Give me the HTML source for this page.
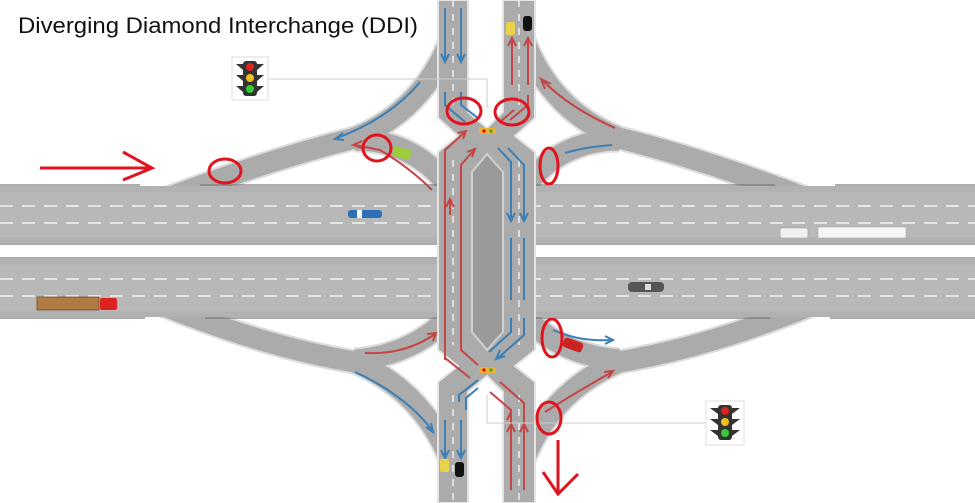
<!DOCTYPE html>
<html><head><meta charset="utf-8"><style>
html,body{margin:0;padding:0;background:#fff;}
svg{display:block;}
</style></head><body>
<svg width="975" height="503" viewBox="0 0 975 503" xmlns="http://www.w3.org/2000/svg">
<rect width="975" height="503" fill="#fff"/>
<!-- ramps -->
<g fill="none" stroke-linecap="butt">
<g stroke="#dcdcdc" stroke-width="25">
<path d="M150,205 Q260,162 355,138"/><path d="M355,138 Q425,110 452,35"/><path d="M355,140 Q412,140 448,185"/>
<path d="M150,300 Q260,346 355,362"/><path d="M355,362 Q425,392 452,465"/><path d="M355,360 Q412,355 448,318"/>
<path d="M824,205 Q714,162 619,138"/><path d="M619,138 Q549,110 522,35"/><path d="M619,140 Q562,140 526,185"/>
<path d="M824,300 Q714,346 619,362"/><path d="M619,362 Q549,392 522,465"/><path d="M619,360 Q562,355 526,318"/>
</g>
<g stroke="#ababab" stroke-width="21">
<path d="M150,205 Q260,162 355,138"/><path d="M355,138 Q425,110 452,35"/><path d="M355,140 Q412,140 448,185"/>
<path d="M150,300 Q260,346 355,362"/><path d="M355,362 Q425,392 452,465"/><path d="M355,360 Q412,355 448,318"/>
<path d="M824,205 Q714,162 619,138"/><path d="M619,138 Q549,110 522,35"/><path d="M619,140 Q562,140 526,185"/>
<path d="M824,300 Q714,346 619,362"/><path d="M619,362 Q549,392 522,465"/><path d="M619,360 Q562,355 526,318"/>
</g>
</g>
<!-- highways -->
<rect x="0" y="186" width="975" height="57" fill="#b2b2b2"/>
<rect x="0" y="192" width="975" height="45" fill="#b8b8b8"/>
<rect x="0" y="259" width="975" height="58" fill="#b2b2b2"/>
<rect x="0" y="265" width="975" height="46" fill="#b8b8b8"/>
<g stroke="#f2f2f2" stroke-width="1.5" stroke-dasharray="13,9">
<line x1="0" y1="206" x2="975" y2="206"/><line x1="0" y1="223" x2="975" y2="223"/>
<line x1="0" y1="279" x2="975" y2="279"/><line x1="0" y1="296" x2="975" y2="296"/>
</g>
<g stroke="#7a7a7a" stroke-width="1.2">
<line x1="0" y1="185" x2="140" y2="185"/><line x1="200" y1="185" x2="775" y2="185"/><line x1="835" y1="185" x2="975" y2="185"/>
<line x1="0" y1="244" x2="975" y2="244"/><line x1="0" y1="258" x2="975" y2="258"/>
<line x1="0" y1="318" x2="145" y2="318"/><line x1="205" y1="318" x2="770" y2="318"/><line x1="830" y1="318" x2="975" y2="318"/>
</g>
<!-- arterial -->
<polygon points="438,0 468,0 468,112 487,128 503,112 503,0 535,0 535,118 515,136 535,152 535,350 515,366 535,382 535,503 503,503 503,392 487,376 468,392 468,503 438,503 438,382 458,366 438,350 438,152 458,136 438,118" fill="#ababab" stroke="#e4e4e4" stroke-width="2"/>
<polygon points="472,172 487,154 503,172 503,332 487,350 472,332" fill="#9a9a9a" stroke="#d0d0d0" stroke-width="2"/>
<g stroke="#f0f0f0" stroke-width="1.5" stroke-dasharray="7,7">
<line x1="453" y1="0" x2="453" y2="110"/><line x1="519" y1="0" x2="519" y2="110"/>
<line x1="453" y1="160" x2="453" y2="345"/><line x1="519" y1="160" x2="519" y2="345"/>
<line x1="453" y1="395" x2="453" y2="503"/><line x1="519" y1="395" x2="519" y2="503"/>
</g>
<!-- arrows -->
<g fill="none" stroke-width="2">
<g stroke="#3c7fb4">
<path d="M445,8 V60 M441,54 L445,62 L449,54"/><path d="M461,8 V60 M457,54 L461,62 L465,54"/>
<path d="M445,92 V105 L465,122"/><path d="M461,92 V105 L478,118"/>
<path d="M508,148 L524,165 V220 M520,213 L524,221 L528,213"/><path d="M498,148 L511,162 V220 M507,213 L511,221 L515,213"/>
<path d="M511,238 V300 M524,238 V300"/><path d="M524,318 V335 L498,358 M500,350 L496,359 L505,356"/><path d="M511,318 V332 L489,352"/>
<path d="M478,380 L459,395 V402"/><path d="M478,388 L466,398 V410"/><path d="M445,420 V457 M441,450 L445,458 L449,450"/><path d="M461,420 V457 M457,450 L461,458 L465,450"/>
<path d="M420,82 Q390,118 337,138 M343,133 L335,139 L344,140"/>
<path d="M355,372 Q405,395 432,430 M426,427 L433,432 L431,423"/>
<path d="M565,153 Q585,147 612,145"/><path d="M553,330 Q580,342 612,340 M605,336 L613,340 L605,344"/>
</g>
<g stroke="#c54646">
<path d="M512,40 V85 M508,46 L512,38 L516,46"/><path d="M528,40 V85 M524,46 L528,38 L532,46"/>
<path d="M510,120 L528,105 V95"/><path d="M500,122 L514,110"/>
<path d="M445,360 V150 L465,132 M458,133 L466,131 L463,139"/><path d="M461,345 V165 L474,150 M467,152 L475,149 L472,157"/>
<path d="M450,215 V200 M446,207 L450,199 L454,207"/>
<path d="M445,345 V358 L470,378"/><path d="M461,330 V350 L478,365"/>
<path d="M490,392 L511,410 V490 M507,420 L511,412"/><path d="M500,382 L524,403 V490"/>
<path d="M511,478 V425 M507,432 L511,424 L515,432"/><path d="M524,478 V425 M520,432 L524,424 L528,432"/>
<path d="M615,128 Q570,108 542,80 M551,84 L541,79 L545,89"/>
<path d="M432,190 Q410,168 380,150 L355,145 M362,141 L353,145 L362,148"/>
<path d="M365,353 Q405,355 435,334 M427,334 L436,333 L433,341"/>
<path d="M545,412 Q580,390 612,372 M604,372 L613,371 L608,378"/>
</g>
</g>
<!-- lights on bridge -->
<rect x="479" y="128" width="17" height="6" rx="2" fill="#f0b030"/><circle cx="484" cy="131" r="1.6" fill="#b11"/><circle cx="491" cy="131" r="1.6" fill="#3a3"/>
<rect x="479" y="367" width="17" height="6" rx="2" fill="#f0b030"/><circle cx="484" cy="370" r="1.6" fill="#b11"/><circle cx="491" cy="370" r="1.6" fill="#3a3"/>
<!-- vehicles -->
<rect x="348" y="210" width="34" height="8" rx="3" fill="#2f6fb5"/><rect x="357" y="210" width="5" height="8" fill="#fff"/>
<rect x="780" y="228" width="28" height="10" rx="2" fill="#f0f0f0" stroke="#999" stroke-width="0.6"/><rect x="818" y="227" width="88" height="11" fill="#f5f5f5" stroke="#aaa" stroke-width="0.6"/>
<rect x="628" y="282" width="36" height="10" rx="4" fill="#555"/><rect x="645" y="284" width="6" height="6" fill="#ddd"/>
<rect x="37" y="297" width="62" height="13" fill="#b07a45" stroke="#6a4b2a" stroke-width="0.8"/><rect x="100" y="298" width="17" height="12" rx="2" fill="#d22"/>
<rect x="393" y="148" width="18" height="10" rx="2" fill="#9ccc38" transform="rotate(15 402 153)"/>
<rect x="563" y="340" width="20" height="10" rx="3" fill="#c22" transform="rotate(20 573 345)"/>
<rect x="506" y="22" width="9" height="13" rx="2" fill="#e8d24a"/><rect x="523" y="16" width="9" height="15" rx="3" fill="#111"/>
<rect x="440" y="459" width="9" height="13" rx="2" fill="#e8d24a"/><rect x="455" y="462" width="9" height="15" rx="3" fill="#111"/>
<!-- signal boxes -->
<path d="M268,79 H487 V108" fill="none" stroke="#ccc" stroke-width="1"/>
<path d="M707,423 H487 V395" fill="none" stroke="#ccc" stroke-width="1"/>
<g>
<rect x="232" y="57" width="36" height="43" fill="#fff" stroke="#ddd"/>
<rect x="243" y="61" width="14" height="35" rx="3" fill="#333"/>
<polygon points="236,64 243,64 243,70" fill="#333"/><polygon points="264,64 257,64 257,70" fill="#333"/>
<polygon points="236,75 243,75 243,81" fill="#333"/><polygon points="264,75 257,75 257,81" fill="#333"/>
<polygon points="236,86 243,86 243,92" fill="#333"/><polygon points="264,86 257,86 257,92" fill="#333"/>
<circle cx="250" cy="67" r="4" fill="#d22"/><circle cx="250" cy="78" r="4" fill="#f0c020"/><circle cx="250" cy="89" r="4" fill="#3c3"/>
</g>
<g transform="translate(474,344)">
<rect x="232" y="57" width="38" height="44" fill="#fff" stroke="#ddd"/>
<rect x="244" y="61" width="14" height="35" rx="3" fill="#333"/>
<polygon points="236,64 244,64 244,70" fill="#333"/><polygon points="266,64 258,64 258,70" fill="#333"/>
<polygon points="236,75 244,75 244,81" fill="#333"/><polygon points="266,75 258,75 258,81" fill="#333"/>
<polygon points="236,86 244,86 244,92" fill="#333"/><polygon points="266,86 258,86 258,92" fill="#333"/>
<circle cx="251" cy="67" r="4" fill="#d22"/><circle cx="251" cy="78" r="4" fill="#f0c020"/><circle cx="251" cy="89" r="4" fill="#3c3"/>
</g>
<!-- red annotations -->
<g fill="none" stroke="#e0141e" stroke-width="3">
<ellipse cx="464" cy="111" rx="17" ry="13"/><ellipse cx="512" cy="112" rx="17" ry="13"/>
<ellipse cx="377" cy="148" rx="14" ry="13"/><ellipse cx="225" cy="171" rx="16" ry="12"/>
<ellipse cx="549" cy="166" rx="9" ry="18"/><ellipse cx="552" cy="338" rx="10" ry="19"/>
<ellipse cx="549" cy="418" rx="12" ry="16"/>
<path d="M40,168 L150,168 M123,152 L152,168 L123,180"/>
<path d="M558,440 V494 M543,472 L558,494 L578,474"/>
</g>
<text x="18" y="33" font-family="Liberation Sans, Arial, sans-serif" font-size="22" fill="#111" textLength="400" lengthAdjust="spacingAndGlyphs">Diverging Diamond Interchange (DDI)</text>
</svg>
</body></html>
